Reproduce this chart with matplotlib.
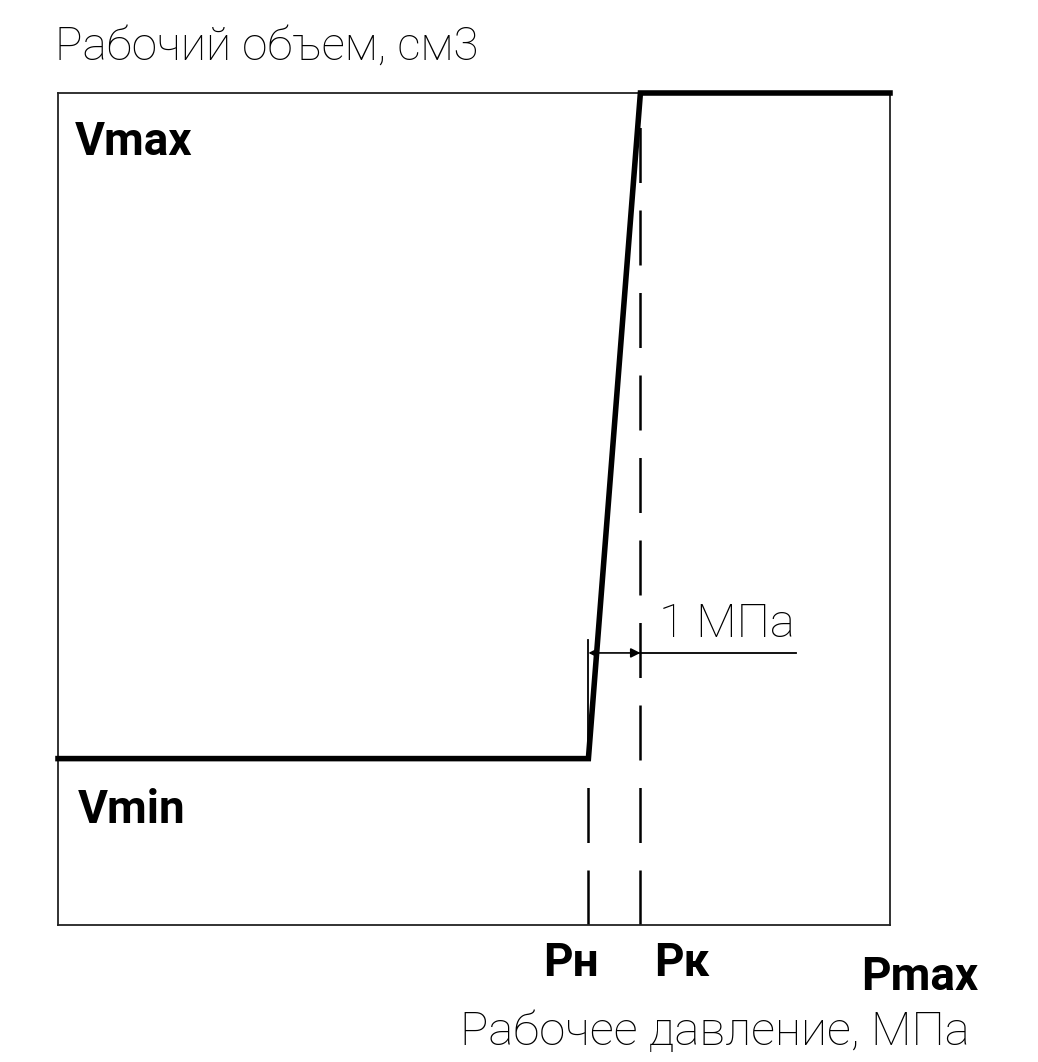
import matplotlib.pyplot as plt

# pressure values, MPa
p_points = [0, 10.2, 11.2, 16]
v_points = [0.2, 0.2, 1.0, 1.0]   # relative working volume
p_n, p_k, p_max = 10.2, 11.2, 16
v_min, v_max = 0.2, 1.0
dim_label = '1 МПа'
x_label = 'Рабочее давление, МПа'
y_label = 'Рабочий объем, см3'

plt.rcParams['font.family'] = ['Roboto', 'DejaVu Sans']

fig = plt.figure(figsize=(10.38, 10.62), dpi=100)
ax = fig.add_axes([58 / 1038, 137 / 1062, 832 / 1038, 832 / 1062])
ax.set_xlim(0, p_max)
ax.set_ylim(0, 1)
ax.set_xticks([])
ax.set_yticks([])
for s in ax.spines.values():
    s.set_linewidth(1.3)
    s.set_color('#222222')

# characteristic
ax.plot(p_points, v_points, color='k', linewidth=4, solid_joinstyle='miter',
        clip_on=False, zorder=3)

# dashed projection lines
ax.plot([p_n, p_n], [0, v_min], color='k', linewidth=1.8, dashes=(22, 11))
ax.plot([p_k, p_k], [0, v_max], color='k', linewidth=1.8, dashes=(22, 11))

# dimension 1 MPa
dim_y = 0.327
ax.plot([p_n, p_n], [v_min, 0.343], color='k', linewidth=1.3)
ax.annotate('', xy=(p_n, dim_y), xytext=(p_k, dim_y),
            arrowprops=dict(arrowstyle='<|-|>', color='k', lw=1.2,
                            mutation_scale=14, shrinkA=0, shrinkB=0))
ax.plot([p_k, 14.2], [dim_y, dim_y], color='k', linewidth=1.3)
ax.text(11.55, dim_y + 0.008, dim_label, fontsize=34, fontweight='light',
        ha='left', va='bottom')

# labels
bold = dict(fontsize=33, fontweight='bold', va='baseline', clip_on=False)
ax.text(0.33, 0.925, 'Vmax', ha='left', **bold)
ax.text(0.38, 0.123, 'Vmin', ha='left', **bold)
ax.text(p_n + 0.2, -0.061, 'Pн', ha='right', **bold)
ax.text(p_k + 0.27, -0.061, 'Pк', ha='left', **bold)
ax.text(15.45, -0.078, 'Pmax', ha='left', **bold)

fig.text(55 / 1038, 1 - 60 / 1062, y_label, fontsize=33, fontweight='light',
         ha='left', va='baseline')
fig.text(970 / 1038, 1 - 1045 / 1062, x_label, fontsize=34, fontweight='light',
         ha='right', va='baseline')

fig.savefig('out.png', dpi=100)
